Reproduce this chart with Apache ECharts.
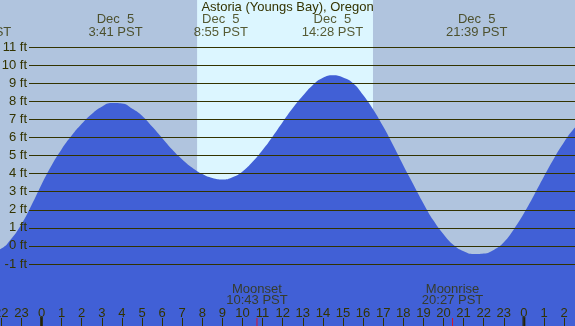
<!DOCTYPE html>
<html>
<head>
<meta charset="utf-8">
<script src="https://cdn.jsdelivr.net/npm/echarts@6/dist/echarts.min.js"></script>
<style>
  html, body { margin: 0; padding: 0; }
  #main { width: 575px; height: 326px; }
</style>
</head>
<body>
<div id="main"></div>
<script>
// tide height every half hour (hours from midnight Dec 5, feet)
var tideHours = [-2.5, -2, -1.5, -1, -0.5, 0, 0.5, 1, 1.5, 2, 2.5, 3, 3.5, 4, 4.5, 5, 5.5, 6, 6.5, 7, 7.5, 8, 8.5, 9,
  9.5, 10, 10.5, 11, 11.5, 12, 12.5, 13, 13.5, 14, 14.5, 15, 15.5, 16, 16.5, 17, 17.5, 18, 18.5, 19, 19.5, 20,
  20.5, 21, 21.5, 22, 22.5, 23, 23.5, 24, 24.5, 25, 25.5, 26, 26.5, 27];
var tideFeet = [-0.3, -0.15, 0.4, 1.2, 2.25, 3.4, 4.45, 5.35, 6.1, 6.75, 7.3, 7.7, 7.9, 7.88, 7.6, 7.2, 6.6, 5.97, 5.33, 4.78, 4.32, 3.97, 3.75, 3.67,
  3.8, 4.12, 4.65, 5.3, 6.05, 6.85, 7.62, 8.3, 8.9, 9.3, 9.44, 9.32, 9.0, 8.35, 7.55, 6.6, 5.55, 4.45, 3.4, 2.35, 1.4, 0.65,
  0.05, -0.3, -0.45, -0.42, -0.22, 0.2, 0.92, 1.8, 2.8, 3.85, 4.85, 5.75, 6.5, 7.1];

// highs and lows
var extremeHours = [-3.03, 3.68, 8.92, 14.47, 21.65];
var extremeDates = ['Dec  4', 'Dec  5', 'Dec  5', 'Dec  5', 'Dec  5'];
var extremeTimes = ['20:58 PST', '3:41 PST', '8:55 PST', '14:28 PST', '21:39 PST'];

// daylight
var sunrise = 7.74;
var sunset = 16.49;

// moon
var moonHours = [10.72, 20.45];
var moonNames = ['Moonset', 'Moonrise'];
var moonTimes = ['10:43 PST', '20:27 PST'];

var midnightHours = [0, 24];

var textColor = '#333300';
var fontFamily = 'Liberation Sans';

var chart = echarts.init(document.getElementById('main'));

var option = {
    backgroundColor: '#b0c4de',
    animation: false,
    title: {
        text: 'Astoria (Youngs Bay), Oregon',
        left: 'center',
        top: 1,
        padding: 0,
        textStyle: { fontFamily: fontFamily, fontSize: 13, fontWeight: 'normal', color: textColor }
    },
    grid: [
        { left: 0, right: 0, top: 0, bottom: 0, outerBoundsMode: 'none' },
        { left: 29, right: 0, top: 47, bottom: 62, outerBoundsMode: 'none' },
        { left: 1.3, right: 10.9, top: 0, bottom: 0, outerBoundsMode: 'none' }
    ],
    xAxis: [
        { gridIndex: 0, type: 'value', min: -2.065, max: 26.54, show: false },
        { gridIndex: 1, type: 'value', min: 0, max: 1, show: false },
        {
            gridIndex: 2, type: 'value', min: -2, max: 26, interval: 1, z: 10,
            axisLine: { show: false },
            splitLine: { show: false },
            axisTick: { inside: true, length: 8, lineStyle: { color: textColor } },
            axisLabel: {
                inside: true, margin: 6,
                color: textColor, fontFamily: fontFamily, fontSize: 13,
                formatter: function (v) { return String((v + 24) % 24); }
            }
        }
    ],
    yAxis: [
        { gridIndex: 0, type: 'value', min: -4.43, max: 13.6, show: false },
        {
            gridIndex: 1, type: 'value', min: -1, max: 11, interval: 1, z: 10,
            axisLine: { show: false },
            axisTick: { show: false },
            axisLabel: { margin: 2, formatter: '{value} ft', color: textColor, fontFamily: fontFamily, fontSize: 13 },
            splitLine: { lineStyle: { color: textColor, width: 1 } }
        },
        { gridIndex: 2, type: 'value', min: 0, max: 1, show: false }
    ],
    series: [
        {
            name: 'tide',
            type: 'line',
            xAxisIndex: 0,
            yAxisIndex: 0,
            data: tideHours.map(function (h, i) { return [h, tideFeet[i]]; }),
            smooth: true,
            showSymbol: false,
            lineStyle: { width: 0 },
            areaStyle: { color: '#4160d6', opacity: 1, origin: 'start' },
            z: 2,
            markArea: {
                silent: true,
                itemStyle: { color: '#dcf6ff' },
                data: [[{ xAxis: sunrise }, { xAxis: sunset }]]
            }
        },
        {
            name: 'extremes',
            type: 'scatter',
            xAxisIndex: 0,
            yAxisIndex: 0,
            clip: false,
            symbolSize: 1,
            itemStyle: { color: 'rgba(0,0,0,0)' },
            data: extremeHours.map(function (h) { return [h, 13.6]; }),
            label: {
                show: true,
                position: 'bottom',
                distance: 12,
                color: textColor,
                fontFamily: fontFamily,
                fontSize: 13,
                lineHeight: 13,
                formatter: function (p) {
                    return extremeDates[p.dataIndex] + '\n' + extremeTimes[p.dataIndex];
                }
            },
            z: 5
        },
        {
            name: 'midnight',
            type: 'scatter',
            xAxisIndex: 2,
            yAxisIndex: 2,
            clip: false,
            symbol: 'rect',
            symbolSize: [3, 9],
            symbolOffset: [0, -4.5],
            itemStyle: { color: '#222200' },
            data: midnightHours.map(function (h) { return [h, 0]; }),
            z: 11
        },
        {
            name: 'moon',
            type: 'scatter',
            xAxisIndex: 2,
            yAxisIndex: 2,
            clip: false,
            symbol: 'rect',
            symbolSize: [1, 8],
            symbolOffset: [0, -4],
            itemStyle: { color: '#ff0000' },
            data: moonHours.map(function (h) { return [h, 0]; }),
            label: {
                show: true,
                position: 'top',
                distance: 12,
                color: textColor,
                fontFamily: fontFamily,
                fontSize: 13,
                lineHeight: 11,
                formatter: function (p) {
                    return moonNames[p.dataIndex] + '\n' + moonTimes[p.dataIndex];
                }
            },
            z: 11
        }
    ]
};

chart.setOption(option);
</script>
</body>
</html>
